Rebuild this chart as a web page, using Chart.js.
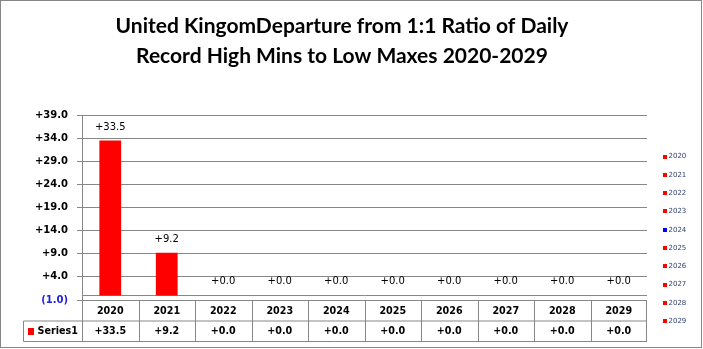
<!DOCTYPE html>
<html>
<head>
<meta charset="utf-8">
<script src="https://cdn.jsdelivr.net/npm/chart.js@4.4.1/dist/chart.umd.min.js"></script>
<style>
  html, body { margin: 0; padding: 0; background: #fff; }
</style>
</head>
<body>
<canvas id="chart" width="703" height="349"></canvas>
<script>
// 🔹 DATA
const years = ["2020", "2021", "2022", "2023", "2024", "2025", "2026", "2027", "2028", "2029"];
const departures = [33.5, 9.2, 0, 0, 0, 0, 0, 0, 0, 0];
const barColors = ["#FF0000", "#FF0000", "#FF0000", "#FF0000", "#0000FF", "#FF0000", "#FF0000", "#FF0000", "#FF0000", "#FF0000"];
const yTicks = [-1, 4, 9, 14, 19, 24, 29, 34, 39];
const seriesName = "Series1";
const titleLines = ["United KingomDeparture from 1:1 Ratio of Daily", "Record High Mins to Low Maxes 2020-2029"];

// 🎨 STYLE
const GRID = "#878787";
const TEXT_FONT = "DejaVu Sans";

// (1.0) for negatives, +x.x otherwise
const fmt = (v) => v < 0 ? "(" + Math.abs(v).toFixed(1) + ")" : "+" + v.toFixed(1);

// 🖼️ OUTER FRAME
const frame = {
    id: "frame",
    afterDraw: (chart) => {
        const ctx = chart.ctx;
        ctx.save();
        ctx.strokeStyle = GRID;
        ctx.lineWidth = 1;
        ctx.strokeRect(0.5, 0.5, 701, 347);
        ctx.restore();
    }
};

// ➖ ZERO LINE
const zeroLine = {
    id: "zeroLine",
    beforeDatasetsDraw: (chart) => {
        const ctx = chart.ctx;
        const area = chart.chartArea;
        const y0 = Math.round(chart.scales.y.getPixelForValue(0)) + 0.5;
        ctx.save();
        ctx.strokeStyle = GRID;
        ctx.lineWidth = 1;
        ctx.beginPath();
        ctx.moveTo(area.left, y0);
        ctx.lineTo(area.right, y0);
        ctx.stroke();
        ctx.restore();
    }
};

// 🔢 VALUE LABELS
const valueLabels = {
    id: "valueLabels",
    afterDatasetsDraw: (chart) => {
        const ctx = chart.ctx;
        const meta = chart.getDatasetMeta(0);
        ctx.save();
        ctx.font = "10px '" + TEXT_FONT + "'";
        ctx.fillStyle = "#000";
        ctx.textAlign = "center";
        ctx.textBaseline = "middle";
        meta.data.forEach((bar, i) => {
            ctx.fillText(fmt(departures[i]), bar.x, bar.y - 13.5);
        });
        ctx.restore();
    }
};

// 📋 DATA TABLE
const dataTable = {
    id: "dataTable",
    afterDraw: (chart) => {
        const ctx = chart.ctx;
        const area = chart.chartArea;
        const x = chart.scales.x;
        const top = Math.round(area.bottom) + 0.5;
        const mid = top + 20.5;
        const bottom = mid + 20.5;
        const half = (x.getPixelForValue(1) - x.getPixelForValue(0)) / 2;
        const keyLeft = 23.5;

        ctx.save();
        ctx.strokeStyle = GRID;
        ctx.lineWidth = 1;
        ctx.beginPath();
        ctx.moveTo(area.left, top); ctx.lineTo(area.right, top);
        ctx.moveTo(keyLeft, mid); ctx.lineTo(area.right, mid);
        ctx.moveTo(keyLeft, bottom); ctx.lineTo(area.right, bottom);
        ctx.moveTo(keyLeft, mid); ctx.lineTo(keyLeft, bottom);
        years.forEach((y, i) => {
            const xl = Math.round(x.getPixelForValue(i) - half) + 0.5;
            ctx.moveTo(xl, top); ctx.lineTo(xl, bottom);
        });
        const xr = Math.round(area.right) - 0.5;
        ctx.moveTo(xr, top); ctx.lineTo(xr, bottom);
        ctx.stroke();

        ctx.font = "bold 9.6px '" + TEXT_FONT + "'";
        ctx.fillStyle = "#000";
        ctx.textAlign = "center";
        ctx.textBaseline = "middle";
        years.forEach((y, i) => {
            const cx = x.getPixelForValue(i);
            ctx.fillText(y, cx, top + 10.5);
            ctx.fillText(fmt(departures[i]), cx, mid + 10.5);
        });

        // series key
        ctx.fillStyle = barColors[0];
        ctx.fillRect(28, mid + 7, 6, 7);
        ctx.fillStyle = "#000";
        ctx.textAlign = "left";
        ctx.fillText(seriesName, 37.5, mid + 10.5);
        ctx.restore();
    }
};

// 🏷️ CATEGORY LEGEND
const categoryLegend = {
    id: "categoryLegend",
    afterDraw: (chart) => {
        const ctx = chart.ctx;
        ctx.save();
        ctx.font = "7px '" + TEXT_FONT + "'";
        ctx.textAlign = "left";
        ctx.textBaseline = "middle";
        years.forEach((y, i) => {
            const cy = 156.5 + i * 18.3;
            ctx.fillStyle = barColors[i];
            ctx.fillRect(663, Math.round(cy) - 2, 4, 4);
            ctx.fillStyle = "#2F3F6F";
            ctx.fillText(y, 668.5, cy);
        });
        ctx.restore();
    }
};

// 📊 CHART
new Chart(document.getElementById("chart"), {
    type: "bar",
    data: {
        labels: years,
        datasets: [{
            label: seriesName,
            data: departures,
            backgroundColor: barColors,
            borderWidth: 0,
            barPercentage: 0.385,
            categoryPercentage: 1
        }]
    },
    options: {
        responsive: false,
        devicePixelRatio: 1,
        animation: false,
        layout: {
            padding: { top: 0, left: 0, right: 19, bottom: 49 }
        },
        scales: {
            x: {
                display: false
            },
            y: {
                min: -1,
                max: 39,
                afterBuildTicks: (scale) => {
                    scale.ticks = yTicks.map((v) => ({ value: v }));
                },
                afterFit: (scale) => {
                    scale.width = 82;
                },
                grid: {
                    color: GRID,
                    lineWidth: 1,
                    tickLength: 5,
                    drawTicks: true
                },
                border: {
                    display: true,
                    color: GRID
                },
                ticks: {
                    padding: 9,
                    font: { family: TEXT_FONT, size: 10, weight: "bold" },
                    color: (c) => c.tick && c.tick.value < 0 ? "#1F1FE0" : "#000",
                    callback: (v) => fmt(v)
                }
            },
            // empty right gutter that holds the legend column
            gutter: {
                type: "linear",
                position: "right",
                display: true,
                grid: { display: false },
                border: { display: false },
                ticks: { display: false },
                afterFit: (scale) => {
                    scale.width = 37;
                }
            }
        },
        plugins: {
            legend: { display: false },
            tooltip: { enabled: false },
            title: {
                display: true,
                text: titleLines,
                color: "#000",
                font: { family: "Lato", size: 21, weight: "bold", lineHeight: "30px" },
                padding: { top: 11, bottom: 44 }
            }
        }
    },
    plugins: [zeroLine, valueLabels, dataTable, categoryLegend, frame]
});
</script>
</body>
</html>
